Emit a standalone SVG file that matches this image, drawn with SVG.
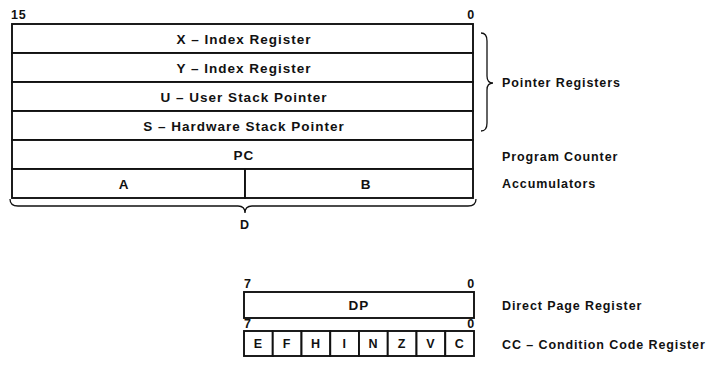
<svg xmlns="http://www.w3.org/2000/svg" width="711" height="379" viewBox="0 0 711 379">
<style>
text{font-family:"Liberation Sans",Arial,sans-serif;font-weight:bold;font-size:12.5px;letter-spacing:0.9px;fill:#111}
.in{font-size:13.5px;letter-spacing:1px}
.c{text-anchor:middle}
.r{text-anchor:end}
.box{fill:#fff;stroke:#111;stroke-width:1.9}
.br{fill:none;stroke:#111;stroke-width:1.3}
</style>
<rect width="711" height="379" fill="#fff"/>
<g id="bits16">
<text x="11" y="19">15</text>
<text x="475" y="19" class="r">0</text>
</g>
<g id="reg-x"><rect class="box" x="12" y="24" width="461" height="29"/><text x="244" y="43.5" class="c in">X – Index Register</text></g>
<g id="reg-y"><rect class="box" x="12" y="53" width="461" height="29"/><text x="244" y="72.5" class="c in">Y – Index Register</text></g>
<g id="reg-u"><rect class="box" x="12" y="82" width="461" height="29"/><text x="244" y="101.5" class="c in">U – User Stack Pointer</text></g>
<g id="reg-s"><rect class="box" x="12" y="111" width="461" height="29"/><text x="244" y="130.5" class="c in">S – Hardware Stack Pointer</text></g>
<g id="reg-pc"><rect class="box" x="12" y="140" width="461" height="29"/><text x="244" y="159.5" class="c in">PC</text></g>
<g id="reg-a"><rect class="box" x="12" y="169" width="233" height="29"/><text x="124" y="188.5" class="c in">A</text></g>
<g id="reg-b"><rect class="box" x="245" y="169" width="228" height="29"/><text x="366" y="188.5" class="c in">B</text></g>
<g id="braces">
<path class="br" d="M10,199 Q10,206 18,206 L238,206 Q245,206 245,213 Q245,206 252,206 L468,206 Q476,206 476,199"/>
<path class="br" d="M481,33 Q487,33 487,41 L487,76 Q487,83 493,83 Q487,83 487,90 L487,123 Q487,131 481,131"/>
</g>
<g id="label-d"><text x="245" y="229" class="c">D</text></g>
<g id="label-pointer"><text x="502" y="87">Pointer Registers</text></g>
<g id="label-pc"><text x="502" y="161">Program Counter</text></g>
<g id="label-acc"><text x="502" y="188">Accumulators</text></g>
<g id="reg-dp">
<text x="244" y="288">7</text>
<text x="475" y="288" class="r">0</text>
<rect class="box" x="244" y="292" width="230" height="26"/>
<text x="359" y="310" class="c in">DP</text>
</g>
<g id="label-dp"><text x="502" y="310">Direct Page Register</text></g>
<g id="reg-cc">
<text x="244" y="328">7</text>
<text x="475" y="328" class="r">0</text>
<rect class="box" x="244" y="331" width="28.75" height="25"/>
<rect class="box" x="272.75" y="331" width="28.75" height="25"/>
<rect class="box" x="301.5" y="331" width="28.75" height="25"/>
<rect class="box" x="330.25" y="331" width="28.75" height="25"/>
<rect class="box" x="359" y="331" width="28.75" height="25"/>
<rect class="box" x="387.75" y="331" width="28.75" height="25"/>
<rect class="box" x="416.5" y="331" width="28.75" height="25"/>
<rect class="box" x="445.25" y="331" width="28.75" height="25"/>
<text x="258.4" y="348" class="c">E</text>
<text x="287.1" y="348" class="c">F</text>
<text x="315.9" y="348" class="c">H</text>
<text x="344.6" y="348" class="c">I</text>
<text x="373.4" y="348" class="c">N</text>
<text x="402.1" y="348" class="c">Z</text>
<text x="430.9" y="348" class="c">V</text>
<text x="459.6" y="348" class="c">C</text>
</g>
<g id="label-cc"><text x="502" y="349">CC – Condition Code Register</text></g>
</svg>
